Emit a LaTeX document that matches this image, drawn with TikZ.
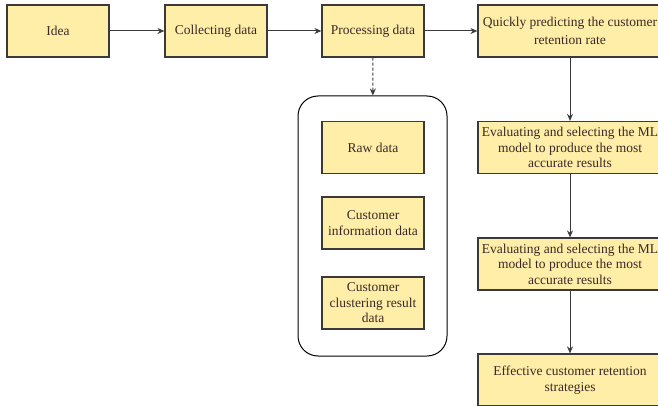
\documentclass[tikz,border=0pt]{standalone}
\usepackage{fontspec}
\setmainfont{Liberation Serif}
\usetikzlibrary{positioning, arrows.meta}
\definecolor{boxFill}{HTML}{FFEEA8}
\definecolor{boxLine}{HTML}{3A3A3A}
\definecolor{boxText}{HTML}{3A2828}

\begin{document}
\begin{tikzpicture}[x=1pt, y=-1pt,
  box/.style={draw=boxLine, fill=boxFill, line width=1.2pt,
              minimum width=102pt, minimum height=52pt, inner sep=2pt,
              font=\fontsize{13.5}{15.5}\selectfont, text=boxText, align=center},
  wide/.style={box, minimum width=184pt},
  arr/.style={-{Stealth[length=7pt, width=6pt]}, line width=1pt, draw=boxLine}
]
\clip (0,0) rectangle (658,406);
% top row
\node[box] (idea)    at (58,31)  {Idea};
\node[box] (collect) at (216,31) {Collecting data};
\node[box] (process) at (373,31) {Processing data};
\node[wide] (predict) at (570,31) {Quickly predicting the customer\\[2pt]retention rate};
% data sources
\node[draw=black, line width=1pt, rounded corners=20pt,
      minimum width=149pt, minimum height=260pt] (sources) at (372.5,226) {};
\node[box] (raw)     at (373,147.5) {Raw data};
\node[box] (info)    at (373,223)   {Customer\\information data};
\node[box] (cluster) at (373,303)   {Customer\\clustering result\\data};
% right column
\node[wide] (eval1)    at (570,147.5) {Evaluating and selecting the ML\\model to produce the most\\accurate results};
\node[wide] (eval2)    at (570,264)   {Evaluating and selecting the ML\\model to produce the most\\accurate results};
\node[wide] (strategy) at (570,380)   {Effective customer retention\\strategies};

\draw[arr] (idea) -- (collect);
\draw[arr] (collect) -- (process);
\draw[arr] (process) -- (predict);
\draw[arr, densely dashed] (process) -- (sources);
\draw[arr] (predict) -- (eval1);
\draw[arr] (eval1) -- (eval2);
\draw[arr] (eval2) -- (strategy);
\end{tikzpicture}
\end{document}
